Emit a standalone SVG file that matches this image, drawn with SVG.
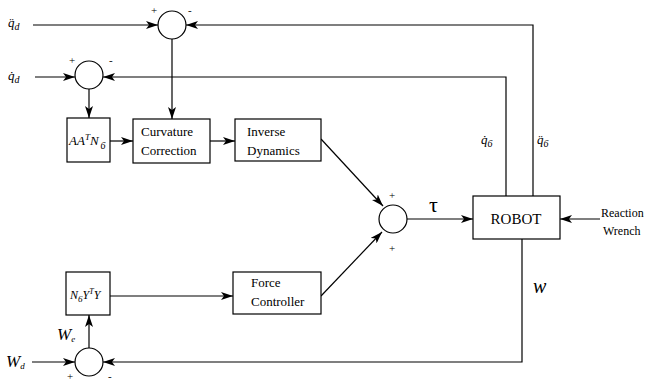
<svg xmlns="http://www.w3.org/2000/svg" width="650" height="382" viewBox="0 0 650 382">
<defs>
<marker id="arr" viewBox="0 0 12 8" refX="12" refY="4" markerWidth="12" markerHeight="8" markerUnits="userSpaceOnUse" orient="auto">
<path d="M0,0 L12,4 L0,8 L3,4 Z" fill="#000"/>
</marker>
</defs>
<style>
.box{fill:#fff;stroke:#000;stroke-width:1.2}
.sum{fill:#fff;stroke:#000;stroke-width:1.2}
.ln{fill:none;stroke:#000;stroke-width:1.2}
.a{marker-end:url(#arr)}
text{font-family:"Liberation Serif","Times New Roman","DejaVu Serif",serif;fill:#000}
.t{font-size:13px}
.m{font-style:italic;font-size:13px}
.s{font-size:11px}
</style>
<rect width="650" height="382" fill="#fff"/>
<g id="connectors">
<line class="ln a" x1="33" y1="25" x2="158" y2="25"/>
<path class="ln a" d="M533,196 V25 H186"/>
<line class="ln a" x1="35" y1="77" x2="75" y2="77"/>
<path class="ln a" d="M506,196 V77 H103"/>
<line class="ln a" x1="172" y1="39" x2="172" y2="119"/>
<line class="ln a" x1="89" y1="89" x2="89" y2="118"/>
<line class="ln a" x1="110" y1="141" x2="133" y2="141"/>
<line class="ln a" x1="210" y1="141" x2="235" y2="141"/>
<line class="ln a" x1="321" y1="139" x2="383" y2="206"/>
<line class="ln a" x1="110" y1="296" x2="233" y2="296"/>
<line class="ln a" x1="321" y1="296" x2="382" y2="232"/>
<line class="ln a" x1="407" y1="219" x2="473" y2="219"/>
<line class="ln a" x1="600" y1="219" x2="560" y2="219"/>
<path class="ln a" d="M522,239 V362 H103"/>
<line class="ln a" x1="32" y1="362" x2="75" y2="362"/>
<line class="ln a" x1="89" y1="348" x2="89" y2="315"/>
</g>
<g id="sum1"><circle class="sum" cx="172" cy="25" r="14"/><text class="s" x="151" y="14">+</text><text class="s" x="188" y="14">-</text></g>
<g id="sum2"><circle class="sum" cx="89" cy="75" r="14"/><text class="s" x="69" y="64">+</text><text class="s" x="109" y="64">-</text></g>
<g id="sum3"><circle class="sum" cx="393" cy="219" r="14"/><text class="s" x="389" y="199">+</text><text class="s" x="389" y="252">+</text></g>
<g id="sum4"><circle class="sum" cx="89" cy="362" r="14"/><text class="s" x="67" y="380">+</text><text class="s" x="108" y="380">-</text></g>
<g id="aatn"><rect class="box" x="67" y="118" width="43" height="44"/><text class="m" x="69" y="145" style="font-size:13px">AA<tspan style="font-size:9px" dy="-5">T</tspan><tspan dy="5">N</tspan><tspan style="font-size:10px" dx="2" dy="4">6</tspan></text></g>
<g id="curv"><rect class="box" x="133" y="119" width="77" height="44"/><text class="t" x="141" y="136">Curvature</text><text class="t" x="141" y="155">Correction</text></g>
<g id="inv"><rect class="box" x="235" y="119" width="86" height="42"/><text class="t" x="247" y="136">Inverse</text><text class="t" x="247" y="155">Dynamics</text></g>
<g id="nyty"><rect class="box" x="66" y="272" width="44" height="43"/><text class="m" x="70" y="299" style="font-size:12px">N<tspan style="font-size:9px" dy="3">6</tspan><tspan dy="-3">Y</tspan><tspan style="font-size:8px" dy="-5">T</tspan><tspan dy="5">Y</tspan></text></g>
<g id="force"><rect class="box" x="233" y="272" width="88" height="42"/><text class="t" x="251" y="287">Force</text><text class="t" x="251" y="306">Controller</text></g>
<g id="robot"><rect class="box" x="473" y="196" width="87" height="43"/><text class="t" x="516" y="224" style="font-size:15px" text-anchor="middle">ROBOT</text></g>
<g id="labels">
<text class="m" x="8" y="27">q̈<tspan style="font-size:10px" dy="3">d</tspan></text>
<text class="m" x="8" y="80">q̇<tspan style="font-size:10px" dy="3">d</tspan></text>
<text class="m" x="481" y="144">q̇<tspan style="font-size:10px" dy="3">6</tspan></text>
<text class="m" x="537" y="144">q̈<tspan style="font-size:10px" dy="3">6</tspan></text>
<text x="429" y="212" style="font-size:22px">τ</text>
<text class="t" x="601" y="217" style="font-size:12px">Reaction</text>
<text class="t" x="603" y="235" style="font-size:12px">Wrench</text>
<text class="m" x="533" y="293" style="font-size:20px">w</text>
<text class="m" x="6" y="367" style="font-size:17px">W<tspan style="font-size:9px" dy="2">d</tspan></text>
<text class="m" x="57" y="340" style="font-size:17px">W<tspan style="font-size:9px" dy="2">e</tspan></text>
</g>
</svg>
